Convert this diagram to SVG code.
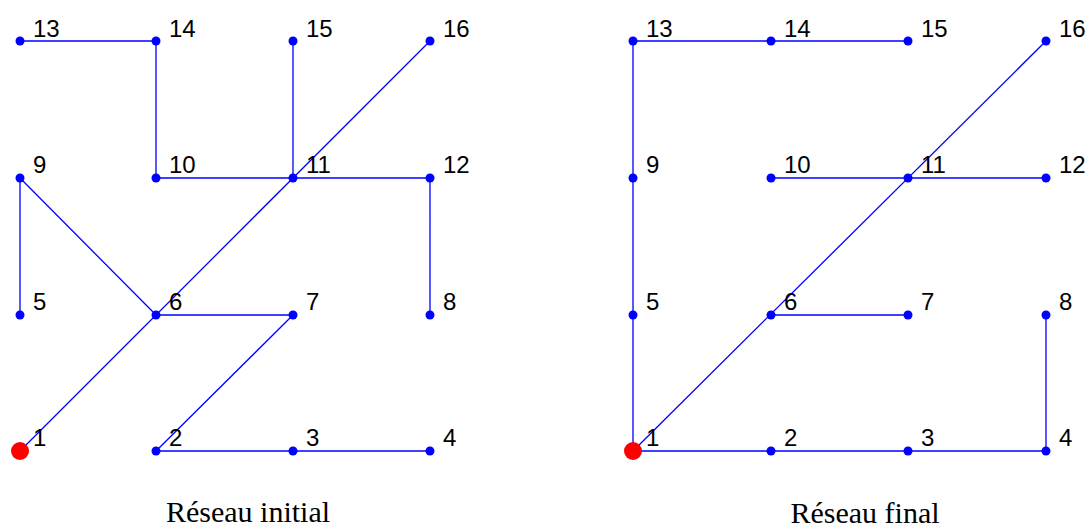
<svg xmlns="http://www.w3.org/2000/svg" width="1088" height="527" viewBox="0 0 1088 527">
<style>
.e{stroke:#0000ff;stroke-width:1.3;fill:none}
.n{fill:#0000ff}
.s{fill:#ff0000}
.l{font-family:"Liberation Sans",Arial,sans-serif;font-size:24px;fill:#000}
.c{font-family:"Liberation Serif","Times New Roman",serif;font-size:30px;fill:#000;text-anchor:middle}
</style>
<rect width="1088" height="527" fill="#fff"/>
<g id="connectors-initial">
<path class="e" d="M20,41H156M156,41V178M156,178H430M293,41V178M430,41L20,451M430,178V315M20,178V315M20,178L156,315M156,315H293M293,315L156,451M156,451H430"/>
</g>
<g id="connectors-final">
<path class="e" d="M633,41H908M633,41V451M1046,41L633,451M771,178H1046M771,315H908M633,451H1046M1046,451V315"/>
</g>
<g id="initial">
<g id="i13"><circle class="n" cx="20" cy="41" r="4.5"/><text class="l" x="33" y="37">13</text></g>
<g id="i14"><circle class="n" cx="156" cy="41" r="4.5"/><text class="l" x="169" y="37">14</text></g>
<g id="i15"><circle class="n" cx="293" cy="41" r="4.5"/><text class="l" x="306" y="37">15</text></g>
<g id="i16"><circle class="n" cx="430" cy="41" r="4.5"/><text class="l" x="443" y="37">16</text></g>
<g id="i9"><circle class="n" cx="20" cy="178" r="4.5"/><text class="l" x="33" y="173">9</text></g>
<g id="i10"><circle class="n" cx="156" cy="178" r="4.5"/><text class="l" x="169" y="173">10</text></g>
<g id="i11"><circle class="n" cx="293" cy="178" r="4.5"/><text class="l" x="306" y="173">11</text></g>
<g id="i12"><circle class="n" cx="430" cy="178" r="4.5"/><text class="l" x="443" y="173">12</text></g>
<g id="i5"><circle class="n" cx="20" cy="315" r="4.5"/><text class="l" x="33" y="310">5</text></g>
<g id="i6"><circle class="n" cx="156" cy="315" r="4.5"/><text class="l" x="169" y="310">6</text></g>
<g id="i7"><circle class="n" cx="293" cy="315" r="4.5"/><text class="l" x="306" y="310">7</text></g>
<g id="i8"><circle class="n" cx="430" cy="315" r="4.5"/><text class="l" x="443" y="310">8</text></g>
<g id="i1"><circle class="s" cx="20" cy="451" r="9"/><text class="l" x="33" y="446">1</text></g>
<g id="i2"><circle class="n" cx="156" cy="451" r="4.5"/><text class="l" x="169" y="446">2</text></g>
<g id="i3"><circle class="n" cx="293" cy="451" r="4.5"/><text class="l" x="306" y="446">3</text></g>
<g id="i4"><circle class="n" cx="430" cy="451" r="4.5"/><text class="l" x="443" y="446">4</text></g>
</g>
<g id="final">
<g id="f13"><circle class="n" cx="633" cy="41" r="4.5"/><text class="l" x="646" y="37">13</text></g>
<g id="f14"><circle class="n" cx="771" cy="41" r="4.5"/><text class="l" x="784" y="37">14</text></g>
<g id="f15"><circle class="n" cx="908" cy="41" r="4.5"/><text class="l" x="921" y="37">15</text></g>
<g id="f16"><circle class="n" cx="1046" cy="41" r="4.5"/><text class="l" x="1059" y="37">16</text></g>
<g id="f9"><circle class="n" cx="633" cy="178" r="4.5"/><text class="l" x="646" y="173">9</text></g>
<g id="f10"><circle class="n" cx="771" cy="178" r="4.5"/><text class="l" x="784" y="173">10</text></g>
<g id="f11"><circle class="n" cx="908" cy="178" r="4.5"/><text class="l" x="921" y="173">11</text></g>
<g id="f12"><circle class="n" cx="1046" cy="178" r="4.5"/><text class="l" x="1059" y="173">12</text></g>
<g id="f5"><circle class="n" cx="633" cy="315" r="4.5"/><text class="l" x="646" y="310">5</text></g>
<g id="f6"><circle class="n" cx="771" cy="315" r="4.5"/><text class="l" x="784" y="310">6</text></g>
<g id="f7"><circle class="n" cx="908" cy="315" r="4.5"/><text class="l" x="921" y="310">7</text></g>
<g id="f8"><circle class="n" cx="1046" cy="315" r="4.5"/><text class="l" x="1059" y="310">8</text></g>
<g id="f1"><circle class="s" cx="633" cy="451" r="9"/><text class="l" x="646" y="446">1</text></g>
<g id="f2"><circle class="n" cx="771" cy="451" r="4.5"/><text class="l" x="784" y="446">2</text></g>
<g id="f3"><circle class="n" cx="908" cy="451" r="4.5"/><text class="l" x="921" y="446">3</text></g>
<g id="f4"><circle class="n" cx="1046" cy="451" r="4.5"/><text class="l" x="1059" y="446">4</text></g>
</g>
<text class="c" x="248" y="522">Réseau initial</text>
<text class="c" x="865" y="523">Réseau final</text>
</svg>
